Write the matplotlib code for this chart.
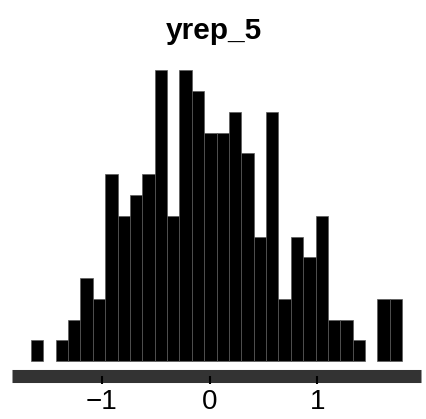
"""Histogram of one replicated dataset (yrep_5)."""

import numpy as np
import matplotlib
matplotlib.use("Agg")
import matplotlib.pyplot as plt

# counts per bin (30 equal-width bins)
counts = [1, 0, 1, 2, 4, 3, 9, 7, 8, 9, 14, 7, 14, 13, 11,
          11, 12, 10, 6, 12, 3, 6, 5, 7, 2, 2, 1, 0, 3, 3]
bin_start = -1.660
bin_width = 0.1149
tick_values = [-1, 0, 1]
tick_labels = ["\u22121", "0", "1"]
title = "yrep_5"

plt.rcParams["font.family"] = ["Liberation Sans", "DejaVu Sans"]

lefts = bin_start + bin_width * np.arange(len(counts))
edge_colors = ["#5a5a5a" if c > 0 else "none" for c in counts]

fig = plt.figure(figsize=(4.26, 4.19), dpi=100)
ax = fig.add_axes([0.0289, 0.1031, 0.9587, 0.7637])

ax.bar(lefts, counts, width=bin_width, align="edge",
       color="black", edgecolor=edge_colors, linewidth=0.5)

span = lefts[-1] + bin_width - bin_start
ax.set_xlim(bin_start - 0.05 * span, lefts[-1] + bin_width + 0.05 * span)
ax.set_ylim(-0.05 * max(counts), max(counts) * 1.05)

for side in ("left", "right", "top"):
    ax.spines[side].set_visible(False)
ax.spines["bottom"].set_linewidth(9.4)
ax.spines["bottom"].set_color("#333333")
ax.spines["bottom"].set_capstyle("butt")

ax.set_yticks([])
ax.set_xticks(tick_values)
ax.set_xticklabels(tick_labels, fontsize=20)
ax.tick_params(axis="x", direction="out", length=5.8, width=1.5,
               color="black", pad=4)
ax.xaxis.set_zorder(3)

fig.text(0.503, 0.907, title, ha="center", va="baseline",
         fontsize=21.5, fontweight="bold")

plt.savefig("out.png", dpi=100)
plt.close()
